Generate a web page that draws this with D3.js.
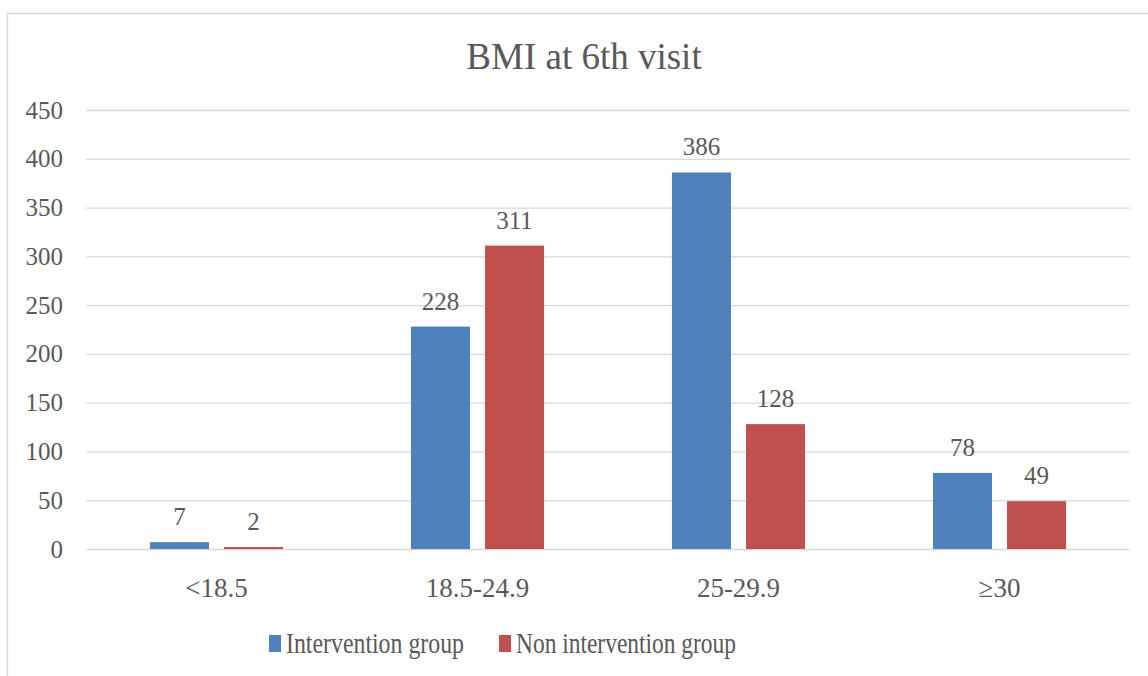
<!DOCTYPE html>
<html>
<head>
<meta charset="utf-8">
<script src="https://cdn.jsdelivr.net/npm/d3@7"></script>
<style>
  html, body { margin: 0; padding: 0; background: #fff; }
  svg { display: block; font-family: "Liberation Serif", "DejaVu Serif", serif; }
</style>
</head>
<body>
<svg id="chart" width="1148" height="676"></svg>
<script>
// BMI categories and counts per group
const categories = ["<18.5", "18.5-24.9", "25-29.9", "≥30"];
const seriesNames = ["Intervention group", "Non intervention group"];
const interventionValues = [7, 228, 386, 78];
const nonInterventionValues = [2, 311, 128, 49];
const yTicks = [0, 50, 100, 150, 200, 250, 300, 350, 400, 450];
const titleText = "BMI at 6th visit";

const colors = ["#4F81BD", "#C0504D"];
const textColor = "#595959";
const gridColor = "#D9D9D9";

const svg = d3.select("#chart");
const plot = { left: 86, right: 1130, top: 110, bottom: 549 };

// outer chart frame
svg.append("rect")
  .attr("x", 7.5).attr("y", 13.5)
  .attr("width", 1160).attr("height", 700)
  .attr("fill", "#fff").attr("stroke", gridColor).attr("stroke-width", 1.5);

// title
svg.append("text")
  .attr("x", 584).attr("y", 69)
  .attr("text-anchor", "middle")
  .attr("font-size", 37)
  .attr("fill", textColor)
  .text(titleText);

const y = d3.scaleLinear().domain([0, 450]).range([plot.bottom, plot.top]);
const x0 = d3.scaleBand().domain(categories).range([plot.left, plot.right])
  .paddingInner(0.49).paddingOuter(0.245);
const x1 = d3.scaleBand().domain(seriesNames).range([0, x0.bandwidth()])
  .paddingInner(0.203).paddingOuter(0);

// y axis: gridlines and labels
const yAxis = d3.axisLeft(y).tickValues(yTicks).tickSize(-(plot.right - plot.left)).tickPadding(23);
const gy = svg.append("g").attr("transform", `translate(${plot.left},0)`).call(yAxis);
gy.select(".domain").remove();
gy.selectAll(".tick line").attr("stroke", gridColor).attr("stroke-width", 1.3);
gy.selectAll(".tick text")
  .attr("font-family", "Liberation Serif, DejaVu Serif, serif")
  .attr("font-size", 25).attr("fill", textColor);

// x axis category labels
const xAxis = d3.axisBottom(x0).tickSize(0).tickPadding(0);
const gx = svg.append("g").attr("transform", `translate(0,${plot.bottom})`).call(xAxis);
gx.select(".domain").remove();
gx.selectAll(".tick text")
  .attr("font-family", "Liberation Serif, DejaVu Serif, serif")
  .attr("font-size", 27).attr("fill", textColor)
  .attr("dy", null).attr("y", 48);

// bars
const rows = categories.map((c, i) => ({
  cat: c,
  vals: [
    { name: seriesNames[0], v: interventionValues[i], color: colors[0] },
    { name: seriesNames[1], v: nonInterventionValues[i], color: colors[1] }
  ]
}));

const groups = svg.append("g").selectAll("g").data(rows).join("g")
  .attr("transform", d => `translate(${x0(d.cat)},0)`);

groups.selectAll("rect").data(d => d.vals).join("rect")
  .attr("x", d => x1(d.name))
  .attr("width", x1.bandwidth())
  .attr("y", d => y(d.v))
  .attr("height", d => y(0) - y(d.v))
  .attr("fill", d => d.color);

groups.selectAll("text").data(d => d.vals).join("text")
  .attr("x", d => x1(d.name) + x1.bandwidth() / 2)
  .attr("y", d => y(d.v) - 17)
  .attr("text-anchor", "middle")
  .attr("font-size", 25)
  .attr("fill", textColor)
  .text(d => d.v);

// legend
const legendItems = [
  { name: seriesNames[0], color: colors[0], x: 269, len: 178 },
  { name: seriesNames[1], color: colors[1], x: 499, len: 220 }
];
const lg = svg.append("g").selectAll("g").data(legendItems).join("g")
  .attr("transform", d => `translate(${d.x},0)`);
lg.append("rect").attr("x", 0).attr("y", 635).attr("width", 12).attr("height", 17)
  .attr("fill", d => d.color);
lg.append("text").attr("x", 17).attr("y", 653)
  .attr("font-size", 30).attr("fill", textColor)
  .attr("textLength", d => d.len).attr("lengthAdjust", "spacingAndGlyphs")
  .text(d => d.name);
</script>
</body>
</html>
